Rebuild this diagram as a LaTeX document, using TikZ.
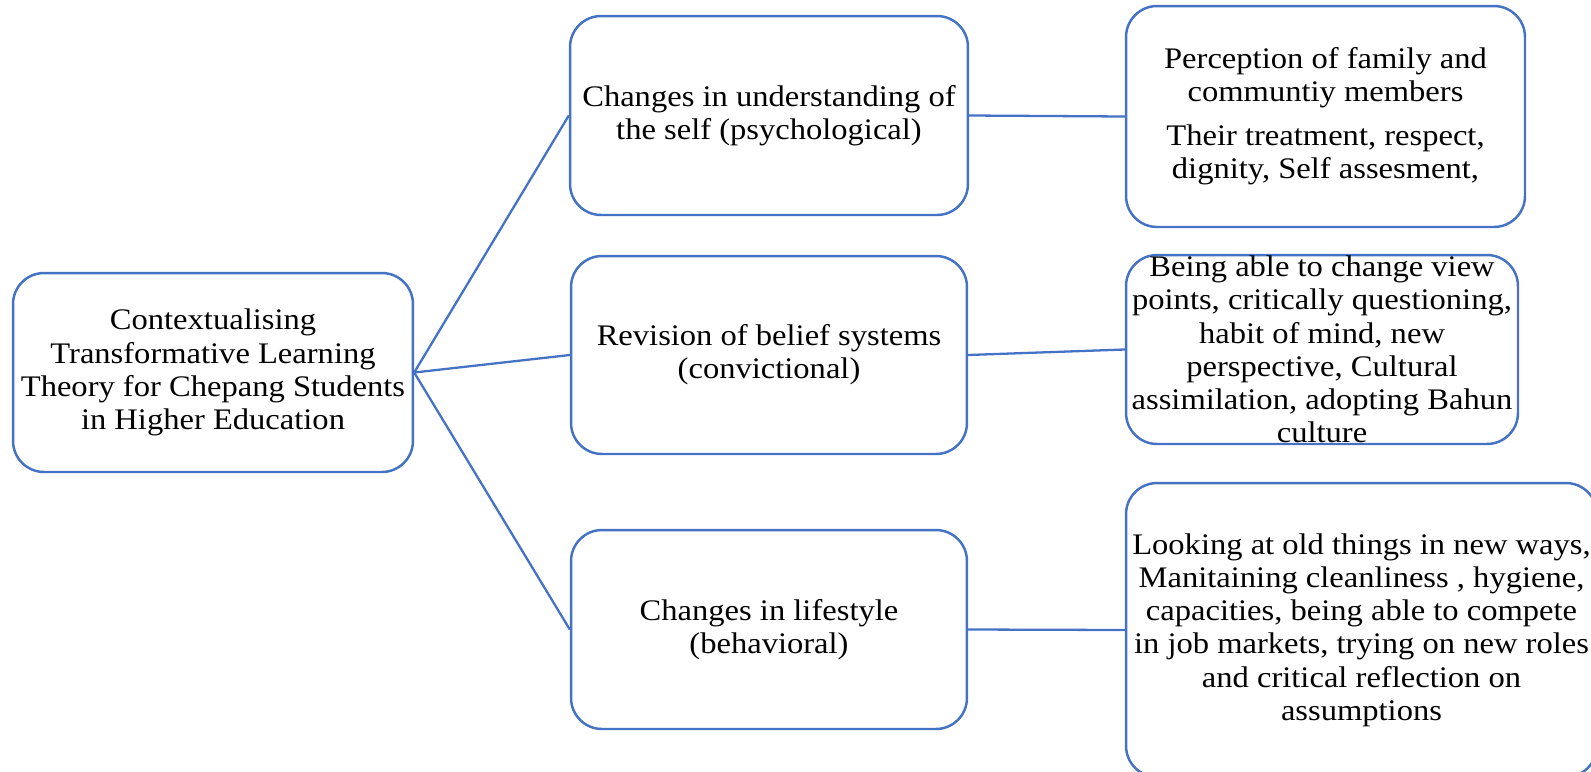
\documentclass[tikz,border=0pt]{standalone}
\usepackage{fontspec}
\setmainfont[FakeStretch=1.09]{Liberation Serif}
\definecolor{boxblue}{HTML}{4472C4}
\tikzset{
  box/.style={draw=boxblue,line width=1.4pt,rounded corners=0.62cm,align=center,
    inner sep=0pt,font=\fontsize{17}{18.9}\selectfont},
  link/.style={draw=boxblue,line width=1.3pt}
}
\begin{document}
\begin{tikzpicture}[x=0.02cm,y=-0.02cm,line join=round]
  \useasboundingbox (0,0) rectangle (1591,771);
  \clip (0,0) rectangle (1591,771);
  \node[box,minimum width=8cm,minimum height=3.98cm] (root) at (213,372.5)
    {Contextualising\\Transformative Learning\\Theory for Chepang Students\\in Higher Education};
  \node[box,minimum width=7.96cm,minimum height=3.98cm] (self) at (769,115.5)
    {Changes in understanding of\\the self (psychological)};
  \node[box,minimum width=7.92cm,minimum height=3.96cm] (belief) at (769,355)
    {Revision of belief systems\\(convictional)};
  \node[box,minimum width=7.92cm,minimum height=3.98cm] (life) at (769,629.5)
    {Changes in lifestyle\\(behavioral)};
  \node[box,minimum width=7.98cm,minimum height=4.42cm] (selfd) at (1325.5,116.5)
    {Perception of family and\\communtiy members\\[6pt]Their treatment, respect,\\dignity, Self assesment,};
  \node[box,minimum width=7.84cm,minimum height=3.78cm] (beliefd) at (1322,349.5)
    {Being able to change view\\points, critically questioning,\\habit of mind, new\\perspective, Cultural\\assimilation, adopting Bahun\\culture};
  \node[box,minimum width=9.42cm,minimum height=5.88cm] (lifed) at (1361.5,630)
    {Looking at old things in new ways,\\Manitaining cleanliness , hygiene,\\capacities, being able to compete\\in job markets, trying on new roles\\and critical reflection on\\assumptions};
  \draw[link] (root.east) -- (self.west);
  \draw[link] (root.east) -- (belief.west);
  \draw[link] (root.east) -- (life.west);
  \draw[link] (self.east) -- (selfd.west);
  \draw[link] (belief.east) -- (beliefd.west);
  \draw[link] (life.east) -- (lifed.west);
\end{tikzpicture}
\end{document}
